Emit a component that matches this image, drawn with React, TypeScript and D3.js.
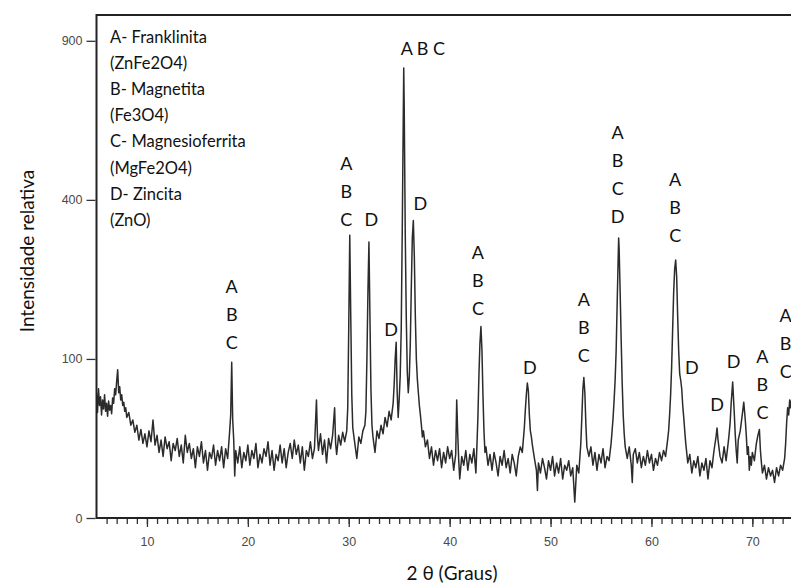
import React, { useEffect, useRef } from 'react';
import * as d3 from 'd3';

// diffractogram: [2θ (graus), intensidade relativa]
const pattern: [number, number][] = [
  [5.0, 62], [5.1, 44], [5.2, 66], [5.3, 50], [5.4, 58], [5.5, 42], [5.6, 55], [5.7, 47], [5.8, 60], [5.9, 45],
  [6.0, 52], [6.1, 41], [6.2, 54], [6.3, 46], [6.4, 50], [6.5, 43], [6.6, 57], [6.7, 52], [6.8, 66], [6.9, 60],
  [7.0, 74], [7.1, 87], [7.2, 62], [7.3, 68], [7.4, 55], [7.5, 60], [7.6, 50], [7.7, 53], [7.8, 45], [7.9, 48],
  [8.0, 40], [8.2, 44], [8.4, 34], [8.6, 38], [8.8, 29], [9.0, 34], [9.2, 24], [9.4, 31], [9.6, 22], [9.8, 28],
  [10.0, 20], [10.2, 30], [10.4, 23], [10.6, 38], [10.8, 21], [11.0, 27], [11.2, 17], [11.4, 24], [11.6, 15], [11.8, 26],
  [12.0, 19], [12.2, 23], [12.4, 13], [12.6, 22], [12.8, 18], [13.0, 25], [13.2, 15], [13.4, 21], [13.6, 12], [13.8, 27],
  [14.0, 17], [14.2, 22], [14.4, 14], [14.6, 19], [14.8, 10], [15.0, 20], [15.2, 15], [15.4, 23], [15.6, 12], [15.8, 18],
  [16.0, 9], [16.2, 17], [16.4, 14], [16.6, 21], [16.8, 11], [17.0, 18], [17.2, 13], [17.4, 20], [17.6, 10], [17.8, 19],
  [18.0, 14], [18.2, 30], [18.3, 42], [18.4, 96], [18.5, 38], [18.6, 24], [18.7, 7], [18.8, 18],
  [19.0, 12], [19.2, 20], [19.4, 10], [19.6, 17], [19.8, 13], [20.0, 21], [20.2, 11], [20.4, 18], [20.6, 14], [20.8, 22],
  [21.0, 10], [21.2, 16], [21.4, 12], [21.6, 19], [21.8, 15], [22.0, 23], [22.2, 11], [22.4, 18], [22.6, 9], [22.8, 16],
  [23.0, 13], [23.2, 21], [23.4, 12], [23.6, 19], [23.8, 10], [24.0, 17], [24.2, 22], [24.4, 14], [24.6, 24], [24.8, 16],
  [25.0, 21], [25.2, 12], [25.4, 20], [25.6, 9], [25.8, 18], [26.0, 15], [26.2, 23], [26.4, 14], [26.6, 19], [26.8, 55],
  [26.9, 26], [27.0, 18], [27.2, 28], [27.4, 16], [27.6, 24], [27.8, 12], [28.0, 25], [28.2, 19], [28.4, 27], [28.6, 48],
  [28.7, 22], [28.8, 16], [29.0, 27], [29.2, 21], [29.4, 29], [29.6, 23], [29.8, 30], [29.9, 48],
  [30.0, 145], [30.1, 316], [30.2, 160], [30.3, 60], [30.4, 32], [30.6, 22], [30.8, 14],
  [31.0, 26], [31.2, 22], [31.4, 30], [31.6, 34], [31.7, 45], [31.8, 100], [31.9, 200], [32.0, 301], [32.1, 160],
  [32.2, 65], [32.3, 34], [32.4, 26], [32.6, 17], [32.8, 30], [33.0, 25], [33.2, 34], [33.4, 28], [33.6, 40], [33.8, 33],
  [34.0, 45], [34.2, 38], [34.4, 52], [34.5, 70], [34.6, 100], [34.7, 122], [34.8, 62], [34.9, 40],
  [35.0, 56], [35.1, 80], [35.2, 140], [35.3, 320], [35.4, 620], [35.45, 800], [35.5, 660], [35.6, 320], [35.7, 160],
  [35.8, 85], [35.9, 62], [36.0, 78], [36.1, 120], [36.2, 210], [36.3, 310], [36.4, 350], [36.5, 270], [36.6, 160],
  [36.7, 100], [36.8, 76], [36.9, 62], [37.0, 50], [37.1, 42], [37.2, 34], [37.3, 26], [37.4, 30], [37.6, 20], [37.8, 24],
  [38.0, 14], [38.2, 20], [38.4, 11], [38.6, 18], [38.8, 13], [39.0, 19], [39.2, 10], [39.4, 17], [39.6, 12], [39.8, 20],
  [40.0, 14], [40.2, 18], [40.4, 9], [40.6, 16], [40.7, 55], [40.8, 28], [40.9, 13],
  [41.0, 6], [41.2, 15], [41.4, 11], [41.6, 18], [41.8, 9], [42.0, 16], [42.2, 12], [42.4, 19], [42.6, 8],
  [42.7, 20], [42.8, 40], [42.9, 80], [43.0, 120], [43.1, 145], [43.2, 112], [43.3, 60], [43.4, 30], [43.5, 17],
  [43.6, 20], [43.8, 11], [44.0, 16], [44.2, 9], [44.4, 17], [44.6, 12], [44.8, 7], [45.0, 15], [45.2, 11], [45.4, 18],
  [45.6, 10], [45.8, 14], [46.0, 8], [46.2, 16], [46.4, 12], [46.6, 7], [46.8, 15], [47.0, 20], [47.2, 17],
  [47.3, 24], [47.4, 32], [47.5, 46], [47.6, 60], [47.7, 72], [47.8, 64], [47.9, 42], [48.0, 30], [48.1, 26], [48.2, 21],
  [48.4, 14], [48.6, 9], [48.7, 3], [48.8, 12], [49.0, 8], [49.2, 14], [49.4, 10], [49.6, 6], [49.8, 13],
  [50.0, 9], [50.2, 15], [50.4, 7], [50.6, 12], [50.8, 8], [51.0, 14], [51.2, 6], [51.4, 11], [51.6, 9], [51.8, 13],
  [52.0, 7], [52.2, 10], [52.4, 1], [52.6, 11], [52.8, 8],
  [53.0, 22], [53.1, 40], [53.2, 65], [53.3, 78], [53.4, 62], [53.5, 35], [53.6, 20], [53.8, 15],
  [54.0, 20], [54.2, 11], [54.4, 17], [54.6, 9], [54.8, 16], [55.0, 12], [55.2, 19], [55.4, 10], [55.6, 15], [55.8, 13],
  [56.0, 22], [56.1, 30], [56.2, 40], [56.3, 55], [56.4, 75], [56.5, 110], [56.6, 180], [56.7, 265], [56.75, 310],
  [56.8, 285], [56.9, 200], [57.0, 125], [57.1, 72], [57.2, 42], [57.3, 28], [57.4, 20], [57.6, 14], [57.8, 20],
  [58.0, 11], [58.1, 5], [58.2, 16], [58.4, 19], [58.6, 12], [58.8, 17], [59.0, 10], [59.2, 15], [59.4, 11], [59.6, 18],
  [59.8, 12], [60.0, 16], [60.2, 9], [60.4, 14], [60.6, 11], [60.8, 17], [61.0, 13], [61.2, 18], [61.4, 15],
  [61.6, 24], [61.7, 30], [61.8, 42], [61.9, 60], [62.0, 90], [62.1, 140], [62.2, 200], [62.3, 245], [62.4, 263],
  [62.5, 230], [62.6, 160], [62.7, 110], [62.8, 82], [62.9, 75], [63.0, 66], [63.1, 50], [63.2, 40], [63.3, 30], [63.4, 22],
  [63.6, 12], [63.8, 16], [64.0, 8], [64.2, 13], [64.4, 10], [64.6, 15], [64.8, 7], [65.0, 12], [65.2, 9], [65.4, 14],
  [65.6, 6], [65.8, 13], [66.0, 10], [66.2, 18], [66.4, 26], [66.5, 32], [66.6, 24], [66.8, 15],
  [67.0, 12], [67.2, 20], [67.4, 13], [67.6, 22], [67.7, 28], [67.8, 36], [67.9, 52], [68.05, 73], [68.2, 45],
  [68.3, 28], [68.4, 18], [68.5, 12], [68.6, 24], [68.8, 30], [69.0, 42], [69.15, 53], [69.3, 38], [69.4, 27],
  [69.5, 16], [69.6, 20], [69.7, 9], [69.8, 15], [69.9, 11], [70.0, 17], [70.2, 13], [70.4, 22], [70.55, 27], [70.7, 31],
  [70.8, 18], [70.9, 12], [71.0, 8], [71.2, 11], [71.4, 6], [71.6, 10], [71.8, 7], [72.0, 9], [72.2, 5], [72.4, 10],
  [72.6, 7], [72.8, 11], [73.0, 9], [73.2, 14], [73.3, 22], [73.4, 36], [73.5, 48], [73.6, 42], [73.7, 55], [73.8, 48],
  [73.9, 56], [74.0, 45], [74.2, 30], [74.4, 18], [74.6, 12],
];

const yTicks = [0, 100, 400, 900];
const xTicks = [10, 20, 30, 40, 50, 60, 70];

const legendLines = [
  'A- Franklinita',
  '(ZnFe2O4)',
  'B-  Magnetita',
  '(Fe3O4)',
  'C-  Magnesioferrita',
  '(MgFe2O4)',
  'D- Zincita',
  '(ZnO)',
];

// phase markers: angle, intensity where the lowest letter sits, letters top to bottom
const peakLabels = [
  { angle: 18.4, level: 122, letters: ['A', 'B', 'C'] },
  { angle: 29.75, level: 353, letters: ['A', 'B', 'C'] },
  { angle: 32.25, level: 353, letters: ['D'] },
  { angle: 34.2, level: 141, letters: ['D'] },
  { angle: 37.1, level: 392, letters: ['D'] },
  { angle: 42.8, level: 173, letters: ['A', 'B', 'C'] },
  { angle: 47.95, level: 90, letters: ['D'] },
  { angle: 53.3, level: 104, letters: ['A', 'B', 'C'] },
  { angle: 56.65, level: 360, letters: ['A', 'B', 'C', 'D'] },
  { angle: 62.35, level: 316, letters: ['A', 'B', 'C'] },
  { angle: 64.0, level: 90, letters: ['D'] },
  { angle: 66.5, level: 51, letters: ['D'] },
  { angle: 68.15, level: 97, letters: ['D'] },
  { angle: 71.0, level: 44, letters: ['A', 'B', 'C'] },
  { angle: 73.3, level: 85, letters: ['A', 'B', 'C'] },
];

// the main reflection carries its letters side by side
const mainLabel = { angle: 37.35, level: 873, text: 'A B C' };

const W = 791;
const H = 585;
const left = 96.5;
const top = 15;
const bottom = 518;

const font = 'Lato, "Open Sans", sans-serif';
const tickFont = '"Liberation Sans Narrow", "Liberation Sans", Arial, sans-serif';

const App: React.FC = () => {
  const gx = useRef<SVGGElement>(null);
  const gy = useRef<SVGGElement>(null);

  const x = d3.scaleLinear().domain([5, 75]).range([left, left + 706.3]);
  const y = d3.scaleSqrt().domain([0, 1000]).range([bottom, top]);

  useEffect(() => {
    if (!gx.current || !gy.current) return;

    const ax = d3.select(gx.current);
    ax.selectAll('*').remove();
    // minor ticks every degree
    ax.call(d3.axisBottom(x).tickValues(d3.range(6, 75)).tickSize(5).tickFormat(() => ''));
    ax.append('g').call(d3.axisBottom(x).tickValues(xTicks).tickSize(8).tickPadding(10));
    ax.selectAll('.domain').remove();
    ax.selectAll('line').attr('stroke', '#333').attr('stroke-width', 1.3);
    ax.selectAll('text').attr('fill', '#4a4a4a').style('font-family', tickFont).style('font-size', '12.5px');

    const ay = d3.select(gy.current);
    ay.selectAll('*').remove();
    ay.call(d3.axisLeft(y).tickValues(yTicks).tickSize(9).tickPadding(4));
    ay.selectAll('.domain').remove();
    ay.selectAll('line').attr('stroke', '#333').attr('stroke-width', 1.3);
    ay.selectAll('text').attr('fill', '#4a4a4a').style('font-family', tickFont).style('font-size', '12.5px');
  }, []);

  const line = d3.line<[number, number]>()
    .x(d => x(d[0]))
    .y(d => y(d[1]));

  return (
    <svg width={W} height={H} style={{ position: 'absolute', left: 0, top: 0, background: '#fff' }}>
      <defs>
        <clipPath id="plot">
          <rect x={left} y={top} width={W - left} height={bottom - top} />
        </clipPath>
      </defs>

      <path d={line(pattern) || ''} fill="none" stroke="#2b2b2b" strokeWidth={1.5}
        strokeLinejoin="round" clipPath="url(#plot)" />

      {/* frame */}
      <line x1={left} x2={W} y1={top} y2={top} stroke="#222" strokeWidth={2} />
      <line x1={left} x2={W} y1={bottom} y2={bottom} stroke="#222" strokeWidth={2} />
      <line x1={left} x2={left} y1={top - 1} y2={bottom + 1} stroke="#222" strokeWidth={2} />

      <g ref={gx} transform={`translate(0,${bottom + 1})`} />
      <g ref={gy} transform={`translate(${left - 1},0)`} />

      {/* legend */}
      <g style={{ fontFamily: font, fontSize: 16.5, whiteSpace: 'pre' }} fill="#111">
        {legendLines.map((t, i) => (
          <text key={i} x={110} y={43 + i * 26.1}>{t}</text>
        ))}
      </g>

      {/* phase letters */}
      <g style={{ fontFamily: font, fontSize: 18 }} fill="#111" textAnchor="middle">
        {peakLabels.map((p, i) => (
          <g key={i}>
            {p.letters.map((l, j) => (
              <text key={j} x={x(p.angle)} y={y(p.level) + 6.5 - (p.letters.length - 1 - j) * 28}>{l}</text>
            ))}
          </g>
        ))}
        <text x={x(mainLabel.angle)} y={y(mainLabel.level) + 6.5}>{mainLabel.text}</text>
      </g>

      {/* axis titles */}
      <text x={452} y={580} textAnchor="middle" style={{ fontFamily: font, fontSize: 19 }} fill="#111">
        2 θ (Graus)
      </text>
      <text transform="translate(34,251) rotate(-90)" textAnchor="middle"
        style={{ fontFamily: font, fontSize: 19 }} fill="#111">
        Intensidade relativa
      </text>
    </svg>
  );
};

export default App;
